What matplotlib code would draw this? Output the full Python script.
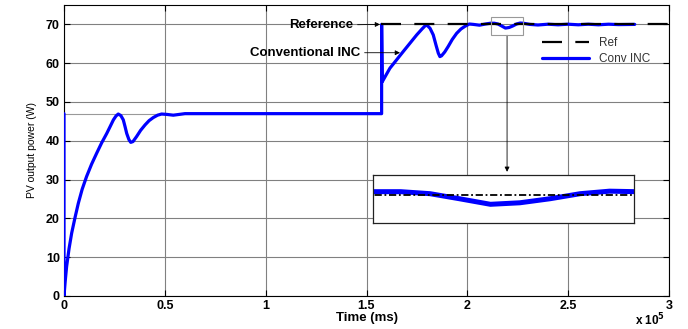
import matplotlib
matplotlib.use("Agg")
import matplotlib.pyplot as plt
from matplotlib.patches import Rectangle

# ---- data (time in units of 1e5 ms, power in W) ----
conv_t = [0.0, 0.0, 0.0, 0.006, 0.013, 0.025, 0.038, 0.055, 0.071, 0.09, 0.112,
          0.137, 0.162, 0.187, 0.212, 0.230, 0.245, 0.258, 0.269,
          0.282, 0.294, 0.303, 0.311, 0.322, 0.331, 0.342, 0.360, 0.380, 0.402,
          0.422, 0.443, 0.464, 0.484, 0.51, 0.542, 0.60, 0.8,
          1.0, 1.2, 1.4, 1.575, 1.575, 1.578, 1.616, 1.682, 1.749, 1.775, 1.790,
          1.800, 1.815, 1.831, 1.845, 1.856, 1.864, 1.872, 1.888, 1.905, 1.925,
          1.947, 1.968, 1.988, 2.01, 2.03,
          2.06, 2.09, 2.115, 2.134, 2.152, 2.170, 2.189, 2.207, 2.2255, 2.244,
          2.262, 2.278, 2.31, 2.35, 2.40, 2.45, 2.50, 2.55, 2.60, 2.65, 2.70,
          2.75, 2.83]
conv_p = [47.0, 0.0, 0.0, 3.8, 7.6, 12.2, 16.2, 20.3, 23.9, 27.5, 30.8,
          34.0, 36.8, 39.5, 41.9, 43.8, 45.4, 46.4, 46.9,
          46.5, 45.4, 43.6, 41.9, 40.3, 39.6, 39.8, 41.1, 42.7, 44.1,
          45.2, 46.0, 46.6, 46.9, 46.8, 46.6, 47.0, 47.0,
          47.0, 47.0, 47.0, 47.0, 70.0, 55.2, 58.7, 63.0, 67.3, 68.8, 69.6,
          69.8, 69.0, 67.3, 64.6, 62.6, 61.7, 61.9, 62.9, 64.3, 66.1,
          67.7, 68.8, 69.5, 70.1, 70.0,
          69.8, 70.1, 70.3, 70.3, 70.1, 69.6, 69.05, 69.2, 69.6, 70.1,
          70.35, 70.3, 70.0, 69.85, 70.05, 69.9, 70.05, 69.9, 70.05, 69.9, 70.05,
          69.95, 70.0]
ref_t = [1.57, 3.0]
ref_p = [70.0, 70.0]
init_level_t = [0.0, 1.57]
init_level_p = [47.0, 47.0]

x_ticks = [0, 0.5, 1, 1.5, 2, 2.5, 3]
x_tick_labels = ["0", "0.5", "1", "1.5", "2", "2.5", "3"]
y_ticks = [0, 10, 20, 30, 40, 50, 60, 70]
y_tick_labels = ["0", "10", "20", "30", "40", "50", "60", "70"]

zoom_x = (2.117, 2.277)
zoom_y = (67.2, 71.95)

W, H = 688, 329
fig = plt.figure(figsize=(W / 100, H / 100), dpi=100)
plt.rcParams['font.family'] = ['Liberation Sans', 'DejaVu Sans']

ax = fig.add_axes([64 / W, 1 - 296 / H, (669 - 64) / W, (296 - 5) / H])
ax.set_xlim(0, 3)
ax.set_ylim(0, 75)
ax.grid(True, color='#808080', linewidth=0.8)
ax.set_axisbelow(True)

ax.plot(init_level_t, init_level_p, color='#999999', linewidth=0.8, zorder=2)
ax.plot(conv_t, conv_p, color='#0000ff', linewidth=2.3, solid_joinstyle='round',
        solid_capstyle='round', label='Conv INC', zorder=3)
ax.plot(ref_t, ref_p, color='black', linewidth=1.6, dashes=(9, 6),
        label='Ref', zorder=4)

ax.set_xticks(x_ticks)
ax.set_xticklabels(x_tick_labels, fontweight='bold', fontsize=9)
ax.set_yticks(y_ticks)
ax.set_yticklabels(y_tick_labels, fontweight='bold', fontsize=9)
ax.tick_params(direction='in', length=4, width=0.8, top=True, right=True, pad=3)
for s in ax.spines.values():
    s.set_linewidth(0.8)

ax.set_xlabel("Time (ms)", fontweight='bold', fontsize=9.5, labelpad=0)
ax.set_ylabel("PV output power (W)", fontsize=7.5, labelpad=6)
fig.text(665 / W, 1 - 320 / H, r"x 10$^{\mathbf{5}}$", fontweight='bold', fontsize=8.5,
         ha='right', va='center')

# legend (order: Ref, Conv INC)
h, l = ax.get_legend_handles_labels()
leg = ax.legend([h[1], h[0]], [l[1], l[0]], loc='upper left',
                bbox_to_anchor=(542 / W, 1 - 37 / H), bbox_transform=fig.transFigure,
                frameon=False, fontsize=8.5, handlelength=4.0, handletextpad=0.8,
                labelspacing=0.35, borderpad=0, borderaxespad=0)
for t in leg.get_texts():
    t.set_color('#333333')

# annotations
ax.annotate("Reference", xy=(1.567, 70), xytext=(1.435, 69.8),
            ha='right', va='center', fontweight='bold', fontsize=9.5,
            arrowprops=dict(arrowstyle='-|>', color='black', lw=0.6,
                            mutation_scale=7, shrinkA=1, shrinkB=0))
ax.annotate("Conventional INC", xy=(1.666, 62.7), xytext=(1.470, 62.7),
            ha='right', va='center', fontweight='bold', fontsize=9.5,
            arrowprops=dict(arrowstyle='-|>', color='black', lw=0.6,
                            mutation_scale=7, shrinkA=1, shrinkB=0))

# zoom rectangle
ax.add_patch(Rectangle((zoom_x[0], zoom_y[0]), zoom_x[1] - zoom_x[0],
                       zoom_y[1] - zoom_y[0], fill=False, edgecolor='#999999',
                       linewidth=0.8, zorder=5))
ax.annotate("", xy=(2.197, 32.0), xytext=(2.197, zoom_y[0]),
            arrowprops=dict(arrowstyle='-|>', color='black', lw=0.6,
                            mutation_scale=7, shrinkA=0, shrinkB=0))

# inset
axi = fig.add_axes([373 / W, 1 - 223 / H, 261 / W, 48 / H])
axi.plot(conv_t, conv_p, color='#0000ff', linewidth=3.6)
axi.plot(ref_t, ref_p, color='black', linewidth=1.3, linestyle=(0, (4, 1.5, 1, 1.5)))
axi.set_xlim(*zoom_x)
axi.set_ylim(*zoom_y)
axi.set_xticks([])
axi.set_yticks([])
for s in axi.spines.values():
    s.set_linewidth(0.9)
    s.set_color('#222222')

fig.savefig("out.png", dpi=100)
